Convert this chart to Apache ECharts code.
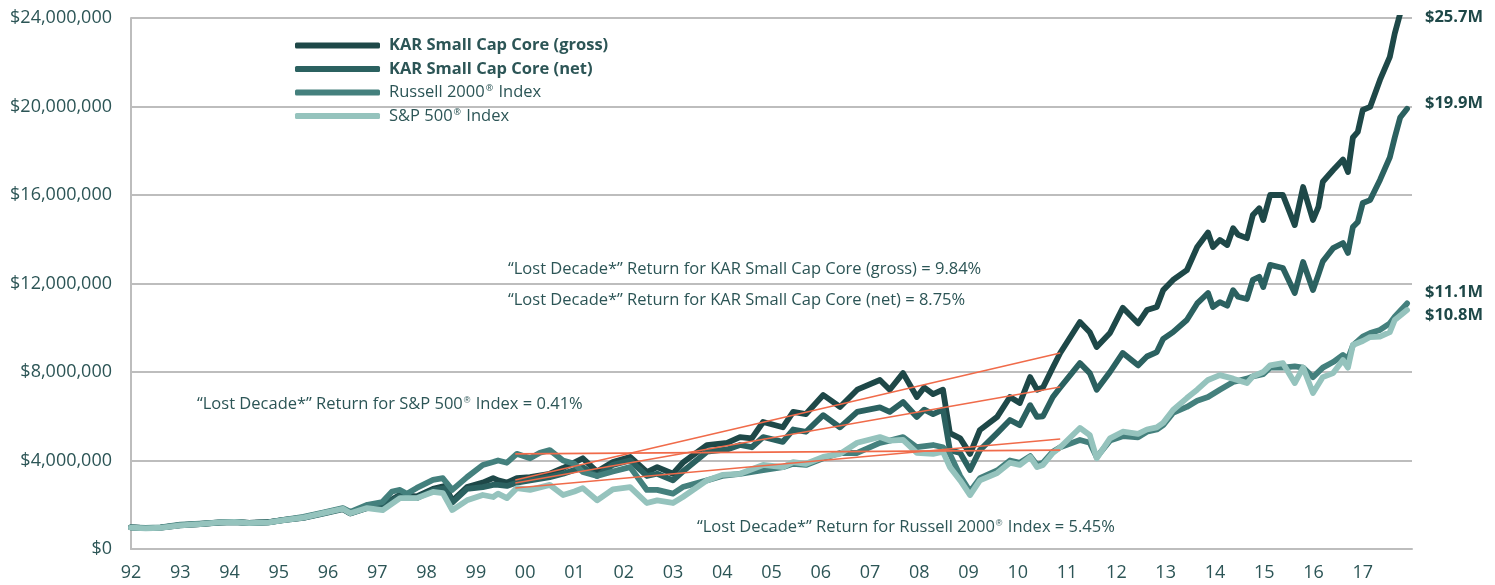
<!DOCTYPE html>
<html>
<head>
<meta charset="utf-8">
<script src="https://cdn.jsdelivr.net/npm/echarts@6/dist/echarts.min.js"></script>
<style>
html, body { margin: 0; padding: 0; background: #fff; }
#chart { width: 1495px; height: 585px; }
</style>
</head>
<body>
<div id="chart"></div>
<script>
// values in $ millions, [year, value]
var grossData = [[1992.0,0.98],[1992.3,0.94],[1992.6,0.97],[1993.0,1.08],[1993.4,1.13],[1993.8,1.2],[1994.1,1.23],[1994.4,1.18],[1994.8,1.22],[1995.1,1.32],[1995.5,1.42],[1995.9,1.62],[1996.3,1.82],[1996.45,1.62],[1996.8,1.88],[1997.1,1.98],[1997.45,2.44],[1997.8,2.38],[1998.13,2.72],[1998.38,2.85],[1998.52,2.18],[1998.82,2.8],[1999.14,3.0],[1999.35,3.2],[1999.45,3.1],[1999.63,3.0],[1999.83,3.2],[2000.1,3.25],[2000.5,3.4],[2000.77,3.66],[2001.17,4.1],[2001.46,3.5],[2001.78,3.93],[2002.13,4.16],[2002.47,3.48],[2002.68,3.7],[2003.0,3.4],[2003.2,3.9],[2003.69,4.7],[2004.1,4.8],[2004.36,5.06],[2004.6,5.0],[2004.83,5.74],[2005.23,5.5],[2005.44,6.2],[2005.7,6.1],[2006.05,6.96],[2006.39,6.42],[2006.74,7.2],[2007.2,7.64],[2007.4,7.2],[2007.67,7.95],[2007.95,6.87],[2008.1,7.3],[2008.28,7.0],[2008.48,7.2],[2008.62,5.24],[2008.83,5.0],[2009.03,4.3],[2009.23,5.38],[2009.58,5.97],[2009.84,6.87],[2010.04,6.6],[2010.25,7.77],[2010.39,7.2],[2010.51,7.3],[2010.71,8.2],[2010.86,8.86],[2011.26,10.26],[2011.46,9.8],[2011.6,9.13],[2011.87,9.76],[2012.13,10.9],[2012.44,10.2],[2012.62,10.8],[2012.82,10.94],[2012.95,11.7],[2013.15,12.16],[2013.43,12.6],[2013.64,13.65],[2013.86,14.3],[2013.96,13.65],[2014.1,13.97],[2014.25,13.74],[2014.37,14.5],[2014.47,14.2],[2014.65,14.05],[2014.77,15.1],[2014.9,15.4],[2014.98,14.87],[2015.12,16.0],[2015.38,16.0],[2015.62,14.64],[2015.79,16.36],[2015.99,14.87],[2016.1,15.46],[2016.19,16.6],[2016.4,17.13],[2016.6,17.6],[2016.7,17.04],[2016.8,18.6],[2016.9,18.85],[2017.0,19.84],[2017.15,19.98],[2017.35,21.2],[2017.55,22.24],[2017.65,23.3],[2017.76,24.2],[2017.9,25.7]];
var netData = [[1992.0,0.98],[1992.3,0.94],[1992.6,0.97],[1993.0,1.07],[1993.4,1.12],[1993.8,1.19],[1994.1,1.22],[1994.4,1.17],[1994.8,1.21],[1995.1,1.31],[1995.5,1.41],[1995.9,1.6],[1996.3,1.8],[1996.45,1.6],[1996.8,1.85],[1997.1,1.95],[1997.45,2.38],[1997.8,2.3],[1998.13,2.65],[1998.38,2.75],[1998.52,2.1],[1998.82,2.72],[1999.14,2.8],[1999.35,2.9],[1999.45,2.9],[1999.63,2.85],[1999.83,3.0],[2000.1,3.1],[2000.5,3.25],[2000.77,3.4],[2001.17,3.7],[2001.46,3.3],[2001.78,3.8],[2002.13,4.0],[2002.47,3.3],[2002.68,3.4],[2003.0,3.1],[2003.2,3.5],[2003.69,4.4],[2004.1,4.5],[2004.36,4.7],[2004.6,4.6],[2004.83,5.06],[2005.23,4.84],[2005.44,5.4],[2005.7,5.3],[2006.05,6.05],[2006.39,5.5],[2006.74,6.2],[2007.2,6.4],[2007.4,6.2],[2007.67,6.64],[2007.95,5.97],[2008.1,6.3],[2008.28,6.1],[2008.48,6.3],[2008.62,4.47],[2008.83,4.34],[2009.03,3.57],[2009.23,4.47],[2009.58,5.24],[2009.84,5.83],[2010.04,5.6],[2010.25,6.5],[2010.39,5.97],[2010.51,6.0],[2010.71,6.87],[2010.86,7.3],[2011.26,8.4],[2011.46,7.95],[2011.6,7.2],[2011.87,8.0],[2012.13,8.86],[2012.44,8.3],[2012.62,8.7],[2012.82,8.9],[2012.95,9.5],[2013.15,9.8],[2013.43,10.35],[2013.64,11.1],[2013.86,11.57],[2013.96,10.94],[2014.1,11.16],[2014.25,11.0],[2014.37,11.7],[2014.47,11.4],[2014.65,11.3],[2014.77,12.16],[2014.9,12.3],[2014.98,11.84],[2015.12,12.84],[2015.38,12.7],[2015.62,11.57],[2015.79,12.97],[2015.99,11.7],[2016.1,12.4],[2016.19,13.0],[2016.4,13.6],[2016.6,13.83],[2016.7,13.38],[2016.8,14.55],[2016.9,14.78],[2017.0,15.64],[2017.15,15.77],[2017.35,16.68],[2017.55,17.7],[2017.65,18.6],[2017.76,19.5],[2017.9,19.9]];
var russellData = [[1992.0,0.98],[1992.3,0.95],[1992.6,0.98],[1993.0,1.1],[1993.4,1.15],[1993.8,1.2],[1994.1,1.22],[1994.4,1.18],[1994.8,1.2],[1995.1,1.32],[1995.5,1.45],[1995.9,1.65],[1996.3,1.85],[1996.45,1.68],[1996.8,2.0],[1997.1,2.12],[1997.3,2.6],[1997.46,2.67],[1997.6,2.5],[1997.8,2.76],[1998.13,3.12],[1998.33,3.2],[1998.52,2.67],[1998.82,3.25],[1999.14,3.8],[1999.35,3.93],[1999.45,4.0],[1999.63,3.9],[1999.83,4.3],[2000.1,4.1],[2000.3,4.35],[2000.5,4.47],[2000.77,4.0],[2001.0,3.85],[2001.17,3.48],[2001.46,3.3],[2001.78,3.5],[2002.13,3.7],[2002.47,2.67],[2002.68,2.67],[2003.0,2.5],[2003.2,2.8],[2003.69,3.1],[2004.0,3.3],[2004.36,3.4],[2004.83,3.57],[2005.23,3.7],[2005.44,3.85],[2005.7,3.8],[2006.05,4.1],[2006.39,4.34],[2006.74,4.34],[2007.2,4.8],[2007.4,4.9],[2007.67,5.06],[2007.95,4.6],[2008.28,4.7],[2008.48,4.6],[2008.62,4.3],[2008.83,3.3],[2009.03,2.6],[2009.23,3.2],[2009.58,3.55],[2009.84,4.0],[2010.04,3.9],[2010.25,4.2],[2010.39,3.8],[2010.51,3.9],[2010.71,4.4],[2010.86,4.6],[2011.26,4.93],[2011.46,4.8],[2011.6,4.15],[2011.87,4.9],[2012.13,5.1],[2012.44,5.05],[2012.62,5.3],[2012.82,5.4],[2012.95,5.6],[2013.15,6.15],[2013.43,6.42],[2013.64,6.7],[2013.86,6.87],[2014.1,7.2],[2014.37,7.55],[2014.65,7.7],[2014.77,7.8],[2014.98,7.9],[2015.12,8.2],[2015.38,8.2],[2015.62,8.25],[2015.79,8.2],[2015.99,7.77],[2016.19,8.2],[2016.4,8.45],[2016.6,8.77],[2016.7,8.6],[2016.8,9.2],[2017.0,9.6],[2017.15,9.76],[2017.35,9.9],[2017.55,10.2],[2017.65,10.5],[2017.9,11.1]];
var spData = [[1992.0,0.97],[1992.3,0.93],[1992.6,0.96],[1993.0,1.07],[1993.4,1.12],[1993.8,1.2],[1994.1,1.22],[1994.4,1.17],[1994.8,1.2],[1995.1,1.3],[1995.5,1.42],[1995.9,1.62],[1996.3,1.82],[1996.45,1.62],[1996.79,1.85],[1997.11,1.76],[1997.46,2.3],[1997.8,2.3],[1998.13,2.58],[1998.33,2.53],[1998.52,1.76],[1998.82,2.2],[1999.14,2.44],[1999.35,2.35],[1999.45,2.5],[1999.63,2.3],[1999.83,2.75],[2000.1,2.67],[2000.5,2.9],[2000.77,2.44],[2001.0,2.6],[2001.17,2.75],[2001.46,2.2],[2001.78,2.7],[2002.13,2.8],[2002.47,2.08],[2002.68,2.2],[2003.0,2.08],[2003.2,2.35],[2003.69,3.1],[2004.0,3.35],[2004.36,3.4],[2004.83,3.8],[2005.23,3.7],[2005.44,3.93],[2005.7,3.85],[2006.05,4.16],[2006.39,4.3],[2006.74,4.8],[2007.2,5.06],[2007.4,4.9],[2007.67,4.93],[2007.95,4.34],[2008.28,4.3],[2008.48,4.4],[2008.62,3.7],[2008.83,3.1],[2009.03,2.44],[2009.23,3.1],[2009.58,3.43],[2009.84,3.9],[2010.04,3.8],[2010.25,4.16],[2010.39,3.7],[2010.51,3.8],[2010.71,4.34],[2010.86,4.6],[2011.26,5.47],[2011.46,5.15],[2011.6,4.1],[2011.87,5.0],[2012.13,5.3],[2012.44,5.2],[2012.62,5.4],[2012.82,5.5],[2012.95,5.7],[2013.15,6.28],[2013.43,6.82],[2013.64,7.2],[2013.86,7.64],[2014.1,7.86],[2014.37,7.7],[2014.65,7.5],[2014.77,7.8],[2014.98,8.0],[2015.12,8.3],[2015.38,8.4],[2015.62,7.5],[2015.79,8.2],[2015.99,7.05],[2016.19,7.77],[2016.4,7.95],[2016.6,8.54],[2016.7,8.2],[2016.8,9.22],[2017.0,9.4],[2017.15,9.58],[2017.35,9.6],[2017.55,9.8],[2017.65,10.35],[2017.9,10.8]];

// "lost decade" trend lines: start / end year, start / end value
var lostYears = [1999.8, 2010.86];
var lostGross = [3.12, 8.86];
var lostNet = [2.98, 7.32];
var lostSp = [4.3, 4.47];
var lostRussell = [2.76, 4.97];

var endLabels = ["$25.7M", "$19.9M", "$11.1M", "$10.8M"];
var seriesNames = ["KAR Small Cap Core (gross)", "KAR Small Cap Core (net)", "Russell 2000® Index", "S&P 500® Index"];
var colors = ["#1e4848", "#2b6160", "#44807d", "#95c3bd"];

var textColor = "#2c5556";
var fontFamily = "'Open Sans', Lato, sans-serif";
var supRich = { sup: { fontSize: 9, verticalAlign: "top", lineHeight: 12, padding: [0, 1, 5, 1] } };

function mainLine(name, data, color) {
  return {
    name: name,
    type: "line",
    data: data,
    color: color,
    showSymbol: false,
    symbol: "none",
    clip: true,
    lineStyle: { width: 5.8, color: color, cap: "round", join: "round" }
  };
}

function lostLine(vals) {
  return {
    type: "line",
    data: [[lostYears[0], vals[0]], [lostYears[1], vals[1]]],
    showSymbol: false,
    symbol: "none",
    silent: true,
    lineStyle: { width: 1.6, color: "#f06b4a" },
    z: 5
  };
}

function supText(s) {
  return s.replace("®", "{sup|®}");
}

function note(left, top, text) {
  return {
    type: "text",
    left: left,
    top: top,
    style: {
      text: supText(text),
      fill: textColor,
      font: "16.5px " + fontFamily,
      rich: supRich
    }
  };
}

function endNote(top, text) {
  return {
    type: "text",
    left: 1425,
    top: top,
    style: { text: text, fill: colors[0], font: "bold 16.5px " + fontFamily }
  };
}

var option = {
  animation: false,
  backgroundColor: "#fff",
  grid: { left: 131, right: 83, top: 18, bottom: 36 },
  legend: {
    orient: "vertical",
    left: 290,
    top: 32,
    itemWidth: 85,
    itemHeight: 6,
    itemGap: 6.5,
    icon: "roundRect",
    data: [
      { name: seriesNames[0], textStyle: { fontWeight: "bold" } },
      { name: seriesNames[1], textStyle: { fontWeight: "bold" } },
      { name: seriesNames[2] },
      { name: seriesNames[3] }
    ],
    formatter: function (n) { return supText(n); },
    textStyle: {
      color: textColor,
      fontSize: 16.5,
      fontFamily: fontFamily,
      padding: [0, 0, 0, 4],
      rich: supRich
    }
  },
  xAxis: {
    type: "value",
    min: 1992,
    max: 2018,
    interval: 1,
    axisLine: { show: true, lineStyle: { color: "#bdbdbd", width: 2 } },
    axisTick: { show: false },
    splitLine: { show: false },
    axisLabel: {
      color: textColor,
      fontSize: 18,
      fontFamily: fontFamily,
      margin: 15,
      formatter: function (v) { return v >= 2018 ? "" : String(v).slice(2); }
    }
  },
  yAxis: {
    type: "value",
    min: 0,
    max: 24,
    interval: 4,
    axisLine: { show: true, lineStyle: { color: "#bdbdbd", width: 2 } },
    axisTick: { show: false },
    splitLine: { lineStyle: { color: "#bdbdbd", width: 2 } },
    axisLabel: {
      color: textColor,
      fontSize: 18,
      fontFamily: fontFamily,
      margin: 19,
      formatter: function (v) { return "$" + (v * 1e6).toLocaleString("en-US"); }
    }
  },
  graphic: [
    note(508, 261, "“Lost Decade*” Return for KAR Small Cap Core (gross) = 9.84%"),
    note(508, 292, "“Lost Decade*” Return for KAR Small Cap Core (net) = 8.75%"),
    note(197, 396, "“Lost Decade*” Return for S&P 500® Index = 0.41%"),
    note(697, 519, "“Lost Decade*” Return for Russell 2000® Index = 5.45%"),
    endNote(9, endLabels[0]),
    endNote(95, endLabels[1]),
    endNote(284, endLabels[2]),
    endNote(307, endLabels[3])
  ],
  series: [
    mainLine(seriesNames[0], grossData, colors[0]),
    mainLine(seriesNames[1], netData, colors[1]),
    mainLine(seriesNames[2], russellData, colors[2]),
    mainLine(seriesNames[3], spData, colors[3]),
    lostLine(lostGross),
    lostLine(lostNet),
    lostLine(lostSp),
    lostLine(lostRussell)
  ]
};

var chart = echarts.init(document.getElementById("chart"));
chart.setOption(option);
</script>
</body>
</html>
